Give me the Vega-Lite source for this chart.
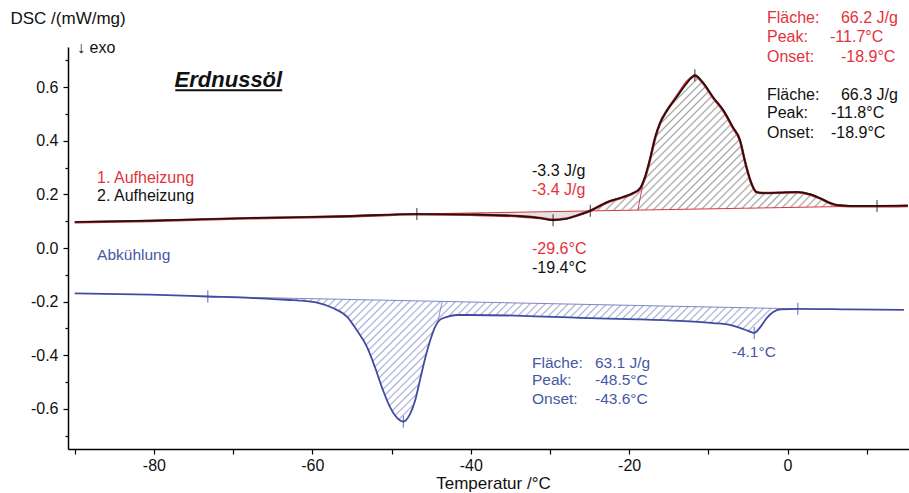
{
"$schema":"https://vega.github.io/schema/vega-lite/v6.json",
"width":841,"height":402,
"autosize":{"type":"none"},
"padding":{"left":68,"top":47,"right":0,"bottom":44},
"background":"#ffffff",
"config":{"view":{"stroke":null},"font":"Liberation Sans","locale":{"number":{"decimal":".","thousands":",","grouping":[3],"currency":["$",""],"minus":"-"}}},
"resolve":{"axis":{"y":"independent"}},
"datasets":{
"curves":[
{"s":"k","T":-90,"v":0.097},{"s":"k","T":-80.5,"v":0.102},{"s":"k","T":-67.9,"v":0.112},{"s":"k","T":-55.2,"v":0.119},
{"s":"k","T":-46.8,"v":0.127,"base":0.127},{"s":"k","T":-40.1,"v":0.125,"base":0.1305},{"s":"k","T":-33.8,"v":0.119,"base":0.1337},
{"s":"k","T":-31.3,"v":0.112,"base":0.135},{"s":"k","T":-29.6,"v":0.104,"base":0.1359},{"s":"k","T":-28.1,"v":0.108,"base":0.1366},
{"s":"k","T":-26.4,"v":0.123,"base":0.1375},{"s":"k","T":-24.9,"v":0.139,"base":0.1383},{"s":"k","T":-22.8,"v":0.171,"base":0.1394},
{"s":"k","T":-20.8,"v":0.19,"base":0.1404},{"s":"k","T":-19.5,"v":0.205,"base":0.1411},{"s":"k","T":-18.6,"v":0.224,"base":0.1416},
{"s":"k","T":-18.0,"v":0.265,"base":0.1419},{"s":"k","T":-17.4,"v":0.328,"base":0.1422},{"s":"k","T":-16.7,"v":0.414,"base":0.1425},
{"s":"k","T":-16.1,"v":0.466,"base":0.1428},{"s":"k","T":-15.2,"v":0.514,"base":0.1433},{"s":"k","T":-14.0,"v":0.563,"base":0.1439},
{"s":"k","T":-12.7,"v":0.615,"base":0.1446},{"s":"k","T":-11.7,"v":0.645,"base":0.1451},{"s":"k","T":-10.7,"v":0.619,"base":0.1456},
{"s":"k","T":-9.4,"v":0.563,"base":0.1463},{"s":"k","T":-8.1,"v":0.514,"base":0.147},{"s":"k","T":-6.9,"v":0.451,"base":0.1476},
{"s":"k","T":-6.0,"v":0.403,"base":0.1481},{"s":"k","T":-5.4,"v":0.328,"base":0.1484},{"s":"k","T":-4.7,"v":0.253,"base":0.1487},
{"s":"k","T":-3.9,"v":0.209,"base":0.1491},{"s":"k","T":-3.1,"v":0.205,"base":0.1496},{"s":"k","T":-1.0,"v":0.207,"base":0.1506},
{"s":"k","T":1.2,"v":0.209,"base":0.1518},{"s":"k","T":2.8,"v":0.201,"base":0.1526},{"s":"k","T":4.1,"v":0.186,"base":0.1533},
{"s":"k","T":5.4,"v":0.168,"base":0.1539},{"s":"k","T":6.3,"v":0.16,"base":0.1544},{"s":"k","T":7.9,"v":0.157,"base":0.1552},
{"s":"k","T":11.3,"v":0.157,"base":0.157},{"s":"k","T":15.2,"v":0.158},
{"s":"r","T":-90,"v":0.096},{"s":"r","T":-80.5,"v":0.101},{"s":"r","T":-67.9,"v":0.111},{"s":"r","T":-55.2,"v":0.118},
{"s":"r","T":-46.8,"v":0.126},{"s":"r","T":-40.1,"v":0.124},{"s":"r","T":-33.8,"v":0.118},{"s":"r","T":-31.3,"v":0.112},
{"s":"r","T":-29.6,"v":0.105},{"s":"r","T":-28.1,"v":0.109},{"s":"r","T":-26.4,"v":0.123},{"s":"r","T":-24.9,"v":0.139},
{"s":"r","T":-22.8,"v":0.17},{"s":"r","T":-20.8,"v":0.189},{"s":"r","T":-19.5,"v":0.204},{"s":"r","T":-18.6,"v":0.222},
{"s":"r","T":-18.0,"v":0.262},{"s":"r","T":-17.4,"v":0.325},{"s":"r","T":-16.7,"v":0.412},{"s":"r","T":-16.1,"v":0.465},
{"s":"r","T":-15.2,"v":0.514},{"s":"r","T":-14.0,"v":0.565},{"s":"r","T":-12.7,"v":0.62},{"s":"r","T":-11.7,"v":0.642},
{"s":"r","T":-10.7,"v":0.616},{"s":"r","T":-9.4,"v":0.561},{"s":"r","T":-8.1,"v":0.512},{"s":"r","T":-6.9,"v":0.449},
{"s":"r","T":-6.0,"v":0.401},{"s":"r","T":-5.4,"v":0.326},{"s":"r","T":-4.7,"v":0.252},{"s":"r","T":-3.9,"v":0.208},
{"s":"r","T":-3.1,"v":0.205},{"s":"r","T":-1.0,"v":0.206},{"s":"r","T":1.2,"v":0.208},{"s":"r","T":2.8,"v":0.2},
{"s":"r","T":4.1,"v":0.185},{"s":"r","T":5.4,"v":0.167},{"s":"r","T":6.3,"v":0.159},{"s":"r","T":7.9,"v":0.156},
{"s":"r","T":11.3,"v":0.156},{"s":"r","T":15.2,"v":0.157},
{"s":"b","T":-90,"v":-0.169},{"s":"b","T":-80.5,"v":-0.174},{"s":"b","T":-73.2,"v":-0.181,"base":-0.181},
{"s":"b","T":-67.9,"v":-0.186,"base":-0.1843},{"s":"b","T":-62.8,"v":-0.194,"base":-0.1874},{"s":"b","T":-61.6,"v":-0.196,"base":-0.1882},
{"s":"b","T":-59.4,"v":-0.204,"base":-0.1895},{"s":"b","T":-57.4,"v":-0.224,"base":-0.1907},{"s":"b","T":-55.6,"v":-0.257,"base":-0.1919},
{"s":"b","T":-54.4,"v":-0.306,"base":-0.1926},{"s":"b","T":-53.1,"v":-0.369,"base":-0.1934},{"s":"b","T":-52.1,"v":-0.444,"base":-0.194},
{"s":"b","T":-51.1,"v":-0.529,"base":-0.1946},{"s":"b","T":-50.2,"v":-0.593,"base":-0.1952},{"s":"b","T":-49.3,"v":-0.634,"base":-0.1957},
{"s":"b","T":-48.5,"v":-0.648,"base":-0.1962},{"s":"b","T":-47.7,"v":-0.622,"base":-0.1967},{"s":"b","T":-47.0,"v":-0.567,"base":-0.1972},
{"s":"b","T":-46.4,"v":-0.492,"base":-0.1975},{"s":"b","T":-45.8,"v":-0.417,"base":-0.1979},{"s":"b","T":-45.1,"v":-0.343,"base":-0.1983},
{"s":"b","T":-44.5,"v":-0.294,"base":-0.1987},{"s":"b","T":-43.9,"v":-0.268,"base":-0.1991},{"s":"b","T":-43.0,"v":-0.257,"base":-0.1996},
{"s":"b","T":-41.7,"v":-0.25,"base":-0.2004},{"s":"b","T":-40.1,"v":-0.25,"base":-0.2014},{"s":"b","T":-33.5,"v":-0.253,"base":-0.2055},
{"s":"b","T":-26.2,"v":-0.261,"base":-0.21},{"s":"b","T":-18.9,"v":-0.266,"base":-0.2145},{"s":"b","T":-13.6,"v":-0.272,"base":-0.2178},
{"s":"b","T":-9.4,"v":-0.28,"base":-0.2204},{"s":"b","T":-7.3,"v":-0.287,"base":-0.2217},{"s":"b","T":-6.0,"v":-0.298,"base":-0.2225},
{"s":"b","T":-5.0,"v":-0.309,"base":-0.2231},{"s":"b","T":-4.2,"v":-0.317,"base":-0.2236},{"s":"b","T":-3.5,"v":-0.298,"base":-0.224},
{"s":"b","T":-2.6,"v":-0.261,"base":-0.2246},{"s":"b","T":-1.8,"v":-0.239,"base":-0.2251},{"s":"b","T":-0.9,"v":-0.229,"base":-0.2256},
{"s":"b","T":1.3,"v":-0.227,"base":-0.227},{"s":"b","T":7.9,"v":-0.229},{"s":"b","T":14.7,"v":-0.231}
],
"marks":[
{"s":"k","T":-46.8,"v":0.127},{"s":"k","T":-29.6,"v":0.104},{"s":"k","T":-24.9,"v":0.139},{"s":"k","T":-11.7,"v":0.645},{"s":"k","T":11.3,"v":0.157},
{"s":"b","T":-73.2,"v":-0.181},{"s":"b","T":-48.5,"v":-0.648},{"s":"b","T":-4.2,"v":-0.317},{"s":"b","T":1.3,"v":-0.227}
],
"dividers":[
{"s":"k","T":-18.9,"v":0.1414,"T2":-18.25,"v2":0.24},
{"s":"b","T":-43.6,"v":-0.1993,"T2":-44.2,"v2":-0.281}
],
"notes":[
{"t":"Fläche:","T":-2.59,"v":0.858,"g":"r"},{"t":"66.2 J/g","T":6.75,"v":0.858,"g":"r"},
{"t":"Peak:","T":-2.59,"v":0.787,"g":"r"},{"t":"-11.7°C","T":5.37,"v":0.787,"g":"r"},
{"t":"Onset:","T":-2.59,"v":0.713,"g":"r"},{"t":"-18.9°C","T":6.75,"v":0.713,"g":"r"},
{"t":"Fläche:","T":-2.59,"v":0.571,"g":"k"},{"t":"66.3 J/g","T":6.75,"v":0.571,"g":"k"},
{"t":"Peak:","T":-2.59,"v":0.504,"g":"k"},{"t":"-11.8°C","T":5.49,"v":0.504,"g":"k"},
{"t":"Onset:","T":-2.59,"v":0.429,"g":"k"},{"t":"-18.9°C","T":5.49,"v":0.429,"g":"k"},
{"t":"1. Aufheizung","T":-87.18,"v":0.261,"g":"r"},{"t":"2. Aufheizung","T":-87.18,"v":0.194,"g":"k"},
{"t":"-3.3 J/g","T":-32.26,"v":0.287,"g":"k"},{"t":"-3.4 J/g","T":-32.26,"v":0.216,"g":"r"},
{"t":"-29.6°C","T":-32.26,"v":-0.004,"g":"r"},{"t":"-19.4°C","T":-32.26,"v":-0.075,"g":"k"},
{"t":"↓ exo","T":-89.7,"v":0.746,"g":"k"},
{"t":"Abkühlung","T":-87.18,"v":-0.026,"g":"b"},
{"t":"Fläche:","T":-32.26,"v":-0.429,"g":"b"},{"t":"63.1 J/g","T":-24.31,"v":-0.429,"g":"b"},
{"t":"Peak:","T":-32.26,"v":-0.493,"g":"b"},{"t":"-48.5°C","T":-24.31,"v":-0.493,"g":"b"},
{"t":"Onset:","T":-32.26,"v":-0.563,"g":"b"},{"t":"-43.6°C","T":-24.31,"v":-0.563,"g":"b"},
{"t":"-4.1°C","T":-7.04,"v":-0.388,"g":"b"}
]
},
"layer":[
{"data":{"name":"curves"},"transform":[{"filter":"datum.s=='k' && datum.T>=-46.8 && datum.T<=-24.9"}],
"mark":{"type":"area","interpolate":"monotone","fill":"#e3e3e3"},
"encoding":{
"x":{"field":"T","type":"quantitative","scale":{"domain":[-90.85,15.34],"nice":false,"zero":false},
"axis":{"title":"Temperatur /°C","values":[-90,-80,-70,-60,-50,-40,-30,-20,-10,0,10],
"labelExpr":"datum.value % 20 == 0 ? (datum.value < 0 ? '-' : '') + abs(datum.value) : ''",
"grid":false,"domainColor":"#000","domainWidth":1.5,"tickColor":"#000","tickWidth":1.2,"tickSize":5,
"labelFontSize":16,"labelColor":"#111","labelPadding":3,"labelFont":"Liberation Sans","labelFlush":false,"labelOverlap":false,
"titleFont":"Liberation Sans","titleFontSize":17,"titleFontWeight":"normal","titleColor":"#111","titleX":425,"titleY":34,"titleBaseline":"middle","titleAlign":"center"}},
"y":{"field":"v","type":"quantitative","scale":{"domain":[-0.75,0.75],"nice":false,"zero":false},
"axis":{"title":"DSC /(mW/mg)","orient":"left","values":[-0.6,-0.4,-0.2,0,0.2,0.4,0.6],
"format":".1f",
"grid":false,"domainColor":"#000","domainWidth":1.5,"tickColor":"#000","tickWidth":1.2,"tickSize":5,
"labelFontSize":16,"labelColor":"#111","labelPadding":5,"labelFont":"Liberation Sans","labelFlush":false,"labelOverlap":false,
"titleFont":"Liberation Sans","titleFontSize":17,"titleFontWeight":"normal","titleColor":"#111",
"titleAngle":0,"titleAlign":"left","titleBaseline":"middle","titleX":-58,"titleY":-29}},
"y2":{"field":"base"}}},
{"data":{"name":"curves"},"transform":[{"filter":"datum.s=='k' && datum.T>=-24.9 && datum.T<=7.9"}],
"mark":{"type":"area","interpolate":"monotone","fill":{"gradient":"linear","x1":0,"y1":0,"x2":1.196,"y2":0.625,"stops":[
{"offset":0,"color":"#a6a6a6"},{"offset":0.0045,"color":"#fff"},{"offset":0.0155,"color":"#fff"},
{"offset":0.02,"color":"#a6a6a6"},{"offset":0.0245,"color":"#fff"},{"offset":0.0355,"color":"#fff"},
{"offset":0.04,"color":"#a6a6a6"},{"offset":0.0445,"color":"#fff"},{"offset":0.0555,"color":"#fff"},
{"offset":0.06,"color":"#a6a6a6"},{"offset":0.0645,"color":"#fff"},{"offset":0.0755,"color":"#fff"},
{"offset":0.08,"color":"#a6a6a6"},{"offset":0.0845,"color":"#fff"},{"offset":0.0955,"color":"#fff"},
{"offset":0.1,"color":"#a6a6a6"},{"offset":0.1045,"color":"#fff"},{"offset":0.1155,"color":"#fff"},
{"offset":0.12,"color":"#a6a6a6"},{"offset":0.1245,"color":"#fff"},{"offset":0.1355,"color":"#fff"},
{"offset":0.14,"color":"#a6a6a6"},{"offset":0.1445,"color":"#fff"},{"offset":0.1555,"color":"#fff"},
{"offset":0.16,"color":"#a6a6a6"},{"offset":0.1645,"color":"#fff"},{"offset":0.1755,"color":"#fff"},
{"offset":0.18,"color":"#a6a6a6"},{"offset":0.1845,"color":"#fff"},{"offset":0.1955,"color":"#fff"},
{"offset":0.2,"color":"#a6a6a6"},{"offset":0.2045,"color":"#fff"},{"offset":0.2155,"color":"#fff"},
{"offset":0.22,"color":"#a6a6a6"},{"offset":0.2245,"color":"#fff"},{"offset":0.2355,"color":"#fff"},
{"offset":0.24,"color":"#a6a6a6"},{"offset":0.2445,"color":"#fff"},{"offset":0.2555,"color":"#fff"},
{"offset":0.26,"color":"#a6a6a6"},{"offset":0.2645,"color":"#fff"},{"offset":0.2755,"color":"#fff"},
{"offset":0.28,"color":"#a6a6a6"},{"offset":0.2845,"color":"#fff"},{"offset":0.2955,"color":"#fff"},
{"offset":0.3,"color":"#a6a6a6"},{"offset":0.3045,"color":"#fff"},{"offset":0.3155,"color":"#fff"},
{"offset":0.32,"color":"#a6a6a6"},{"offset":0.3245,"color":"#fff"},{"offset":0.3355,"color":"#fff"},
{"offset":0.34,"color":"#a6a6a6"},{"offset":0.3445,"color":"#fff"},{"offset":0.3555,"color":"#fff"},
{"offset":0.36,"color":"#a6a6a6"},{"offset":0.3645,"color":"#fff"},{"offset":0.3755,"color":"#fff"},
{"offset":0.38,"color":"#a6a6a6"},{"offset":0.3845,"color":"#fff"},{"offset":0.3955,"color":"#fff"},
{"offset":0.4,"color":"#a6a6a6"},{"offset":0.4045,"color":"#fff"},{"offset":0.4155,"color":"#fff"},
{"offset":0.42,"color":"#a6a6a6"},{"offset":0.4245,"color":"#fff"},{"offset":0.4355,"color":"#fff"},
{"offset":0.44,"color":"#a6a6a6"},{"offset":0.4445,"color":"#fff"},{"offset":0.4555,"color":"#fff"},
{"offset":0.46,"color":"#a6a6a6"},{"offset":0.4645,"color":"#fff"},{"offset":0.4755,"color":"#fff"},
{"offset":0.48,"color":"#a6a6a6"},{"offset":0.4845,"color":"#fff"},{"offset":0.4955,"color":"#fff"},
{"offset":0.5,"color":"#a6a6a6"},{"offset":0.5045,"color":"#fff"},{"offset":0.5155,"color":"#fff"},
{"offset":0.52,"color":"#a6a6a6"},{"offset":0.5245,"color":"#fff"},{"offset":0.5355,"color":"#fff"},
{"offset":0.54,"color":"#a6a6a6"},{"offset":0.5445,"color":"#fff"},{"offset":0.5555,"color":"#fff"},
{"offset":0.56,"color":"#a6a6a6"},{"offset":0.5645,"color":"#fff"},{"offset":0.5755,"color":"#fff"},
{"offset":0.58,"color":"#a6a6a6"},{"offset":0.5845,"color":"#fff"},{"offset":0.5955,"color":"#fff"},
{"offset":0.6,"color":"#a6a6a6"},{"offset":0.6045,"color":"#fff"},{"offset":0.6155,"color":"#fff"},
{"offset":0.62,"color":"#a6a6a6"},{"offset":0.6245,"color":"#fff"},{"offset":0.6355,"color":"#fff"},
{"offset":0.64,"color":"#a6a6a6"},{"offset":0.6445,"color":"#fff"},{"offset":0.6555,"color":"#fff"},
{"offset":0.66,"color":"#a6a6a6"},{"offset":0.6645,"color":"#fff"},{"offset":0.6755,"color":"#fff"},
{"offset":0.68,"color":"#a6a6a6"},{"offset":0.6845,"color":"#fff"},{"offset":0.6955,"color":"#fff"},
{"offset":0.7,"color":"#a6a6a6"},{"offset":0.7045,"color":"#fff"},{"offset":0.7155,"color":"#fff"},
{"offset":0.72,"color":"#a6a6a6"},{"offset":0.7245,"color":"#fff"},{"offset":0.7355,"color":"#fff"},
{"offset":0.74,"color":"#a6a6a6"},{"offset":0.7445,"color":"#fff"},{"offset":0.7555,"color":"#fff"},
{"offset":0.76,"color":"#a6a6a6"},{"offset":0.7645,"color":"#fff"},{"offset":0.7755,"color":"#fff"},
{"offset":0.78,"color":"#a6a6a6"},{"offset":0.7845,"color":"#fff"},{"offset":0.7955,"color":"#fff"},
{"offset":0.8,"color":"#a6a6a6"},{"offset":0.8045,"color":"#fff"},{"offset":0.8155,"color":"#fff"},
{"offset":0.82,"color":"#a6a6a6"},{"offset":0.8245,"color":"#fff"},{"offset":0.8355,"color":"#fff"},
{"offset":0.84,"color":"#a6a6a6"},{"offset":0.8445,"color":"#fff"},{"offset":0.8555,"color":"#fff"},
{"offset":0.86,"color":"#a6a6a6"},{"offset":0.8645,"color":"#fff"},{"offset":0.8755,"color":"#fff"},
{"offset":0.88,"color":"#a6a6a6"},{"offset":0.8845,"color":"#fff"},{"offset":0.8955,"color":"#fff"},
{"offset":0.9,"color":"#a6a6a6"},{"offset":0.9045,"color":"#fff"},{"offset":0.9155,"color":"#fff"},
{"offset":0.92,"color":"#a6a6a6"},{"offset":0.9245,"color":"#fff"},{"offset":0.9355,"color":"#fff"},
{"offset":0.94,"color":"#a6a6a6"},{"offset":0.9445,"color":"#fff"},{"offset":0.9555,"color":"#fff"},
{"offset":0.96,"color":"#a6a6a6"},{"offset":0.9645,"color":"#fff"},{"offset":0.9755,"color":"#fff"},
{"offset":0.98,"color":"#a6a6a6"},{"offset":0.9845,"color":"#fff"},{"offset":0.9955,"color":"#fff"},
{"offset":1,"color":"#a6a6a6"}]}},
"encoding":{"x":{"field":"T","type":"quantitative"},"y":{"field":"v","type":"quantitative","axis":null},"y2":{"field":"base"}}},
{"data":{"name":"curves"},"transform":[{"filter":"datum.s=='b' && datum.T>=-62.8 && datum.T<=-0.9"}],
"mark":{"type":"area","interpolate":"monotone","fill":{"gradient":"linear","x1":0,"y1":0,"x2":1.177,"y2":0.297,"stops":[
{"offset":0,"color":"#a9b0d6"},{"offset":0.0028,"color":"#fff"},{"offset":0.0097,"color":"#fff"},
{"offset":0.0125,"color":"#a9b0d6"},{"offset":0.0153,"color":"#fff"},{"offset":0.0222,"color":"#fff"},
{"offset":0.025,"color":"#a9b0d6"},{"offset":0.0278,"color":"#fff"},{"offset":0.0347,"color":"#fff"},
{"offset":0.0375,"color":"#a9b0d6"},{"offset":0.0403,"color":"#fff"},{"offset":0.0472,"color":"#fff"},
{"offset":0.05,"color":"#a9b0d6"},{"offset":0.0528,"color":"#fff"},{"offset":0.0597,"color":"#fff"},
{"offset":0.0625,"color":"#a9b0d6"},{"offset":0.0653,"color":"#fff"},{"offset":0.0722,"color":"#fff"},
{"offset":0.075,"color":"#a9b0d6"},{"offset":0.0778,"color":"#fff"},{"offset":0.0847,"color":"#fff"},
{"offset":0.0875,"color":"#a9b0d6"},{"offset":0.0903,"color":"#fff"},{"offset":0.0972,"color":"#fff"},
{"offset":0.1,"color":"#a9b0d6"},{"offset":0.1028,"color":"#fff"},{"offset":0.1097,"color":"#fff"},
{"offset":0.1125,"color":"#a9b0d6"},{"offset":0.1153,"color":"#fff"},{"offset":0.1222,"color":"#fff"},
{"offset":0.125,"color":"#a9b0d6"},{"offset":0.1278,"color":"#fff"},{"offset":0.1347,"color":"#fff"},
{"offset":0.1375,"color":"#a9b0d6"},{"offset":0.1403,"color":"#fff"},{"offset":0.1472,"color":"#fff"},
{"offset":0.15,"color":"#a9b0d6"},{"offset":0.1528,"color":"#fff"},{"offset":0.1597,"color":"#fff"},
{"offset":0.1625,"color":"#a9b0d6"},{"offset":0.1653,"color":"#fff"},{"offset":0.1722,"color":"#fff"},
{"offset":0.175,"color":"#a9b0d6"},{"offset":0.1778,"color":"#fff"},{"offset":0.1847,"color":"#fff"},
{"offset":0.1875,"color":"#a9b0d6"},{"offset":0.1903,"color":"#fff"},{"offset":0.1972,"color":"#fff"},
{"offset":0.2,"color":"#a9b0d6"},{"offset":0.2028,"color":"#fff"},{"offset":0.2097,"color":"#fff"},
{"offset":0.2125,"color":"#a9b0d6"},{"offset":0.2153,"color":"#fff"},{"offset":0.2222,"color":"#fff"},
{"offset":0.225,"color":"#a9b0d6"},{"offset":0.2278,"color":"#fff"},{"offset":0.2347,"color":"#fff"},
{"offset":0.2375,"color":"#a9b0d6"},{"offset":0.2403,"color":"#fff"},{"offset":0.2472,"color":"#fff"},
{"offset":0.25,"color":"#a9b0d6"},{"offset":0.2528,"color":"#fff"},{"offset":0.2597,"color":"#fff"},
{"offset":0.2625,"color":"#a9b0d6"},{"offset":0.2653,"color":"#fff"},{"offset":0.2722,"color":"#fff"},
{"offset":0.275,"color":"#a9b0d6"},{"offset":0.2778,"color":"#fff"},{"offset":0.2847,"color":"#fff"},
{"offset":0.2875,"color":"#a9b0d6"},{"offset":0.2903,"color":"#fff"},{"offset":0.2972,"color":"#fff"},
{"offset":0.3,"color":"#a9b0d6"},{"offset":0.3028,"color":"#fff"},{"offset":0.3097,"color":"#fff"},
{"offset":0.3125,"color":"#a9b0d6"},{"offset":0.3153,"color":"#fff"},{"offset":0.3222,"color":"#fff"},
{"offset":0.325,"color":"#a9b0d6"},{"offset":0.3278,"color":"#fff"},{"offset":0.3347,"color":"#fff"},
{"offset":0.3375,"color":"#a9b0d6"},{"offset":0.3403,"color":"#fff"},{"offset":0.3472,"color":"#fff"},
{"offset":0.35,"color":"#a9b0d6"},{"offset":0.3528,"color":"#fff"},{"offset":0.3597,"color":"#fff"},
{"offset":0.3625,"color":"#a9b0d6"},{"offset":0.3653,"color":"#fff"},{"offset":0.3722,"color":"#fff"},
{"offset":0.375,"color":"#a9b0d6"},{"offset":0.3778,"color":"#fff"},{"offset":0.3847,"color":"#fff"},
{"offset":0.3875,"color":"#a9b0d6"},{"offset":0.3903,"color":"#fff"},{"offset":0.3972,"color":"#fff"},
{"offset":0.4,"color":"#a9b0d6"},{"offset":0.4028,"color":"#fff"},{"offset":0.4097,"color":"#fff"},
{"offset":0.4125,"color":"#a9b0d6"},{"offset":0.4153,"color":"#fff"},{"offset":0.4222,"color":"#fff"},
{"offset":0.425,"color":"#a9b0d6"},{"offset":0.4278,"color":"#fff"},{"offset":0.4347,"color":"#fff"},
{"offset":0.4375,"color":"#a9b0d6"},{"offset":0.4403,"color":"#fff"},{"offset":0.4472,"color":"#fff"},
{"offset":0.45,"color":"#a9b0d6"},{"offset":0.4528,"color":"#fff"},{"offset":0.4597,"color":"#fff"},
{"offset":0.4625,"color":"#a9b0d6"},{"offset":0.4653,"color":"#fff"},{"offset":0.4722,"color":"#fff"},
{"offset":0.475,"color":"#a9b0d6"},{"offset":0.4778,"color":"#fff"},{"offset":0.4847,"color":"#fff"},
{"offset":0.4875,"color":"#a9b0d6"},{"offset":0.4903,"color":"#fff"},{"offset":0.4972,"color":"#fff"},
{"offset":0.5,"color":"#a9b0d6"},{"offset":0.5028,"color":"#fff"},{"offset":0.5097,"color":"#fff"},
{"offset":0.5125,"color":"#a9b0d6"},{"offset":0.5153,"color":"#fff"},{"offset":0.5222,"color":"#fff"},
{"offset":0.525,"color":"#a9b0d6"},{"offset":0.5278,"color":"#fff"},{"offset":0.5347,"color":"#fff"},
{"offset":0.5375,"color":"#a9b0d6"},{"offset":0.5403,"color":"#fff"},{"offset":0.5472,"color":"#fff"},
{"offset":0.55,"color":"#a9b0d6"},{"offset":0.5528,"color":"#fff"},{"offset":0.5597,"color":"#fff"},
{"offset":0.5625,"color":"#a9b0d6"},{"offset":0.5653,"color":"#fff"},{"offset":0.5722,"color":"#fff"},
{"offset":0.575,"color":"#a9b0d6"},{"offset":0.5778,"color":"#fff"},{"offset":0.5847,"color":"#fff"},
{"offset":0.5875,"color":"#a9b0d6"},{"offset":0.5903,"color":"#fff"},{"offset":0.5972,"color":"#fff"},
{"offset":0.6,"color":"#a9b0d6"},{"offset":0.6028,"color":"#fff"},{"offset":0.6097,"color":"#fff"},
{"offset":0.6125,"color":"#a9b0d6"},{"offset":0.6153,"color":"#fff"},{"offset":0.6222,"color":"#fff"},
{"offset":0.625,"color":"#a9b0d6"},{"offset":0.6278,"color":"#fff"},{"offset":0.6347,"color":"#fff"},
{"offset":0.6375,"color":"#a9b0d6"},{"offset":0.6403,"color":"#fff"},{"offset":0.6472,"color":"#fff"},
{"offset":0.65,"color":"#a9b0d6"},{"offset":0.6528,"color":"#fff"},{"offset":0.6597,"color":"#fff"},
{"offset":0.6625,"color":"#a9b0d6"},{"offset":0.6653,"color":"#fff"},{"offset":0.6722,"color":"#fff"},
{"offset":0.675,"color":"#a9b0d6"},{"offset":0.6778,"color":"#fff"},{"offset":0.6847,"color":"#fff"},
{"offset":0.6875,"color":"#a9b0d6"},{"offset":0.6903,"color":"#fff"},{"offset":0.6972,"color":"#fff"},
{"offset":0.7,"color":"#a9b0d6"},{"offset":0.7028,"color":"#fff"},{"offset":0.7097,"color":"#fff"},
{"offset":0.7125,"color":"#a9b0d6"},{"offset":0.7153,"color":"#fff"},{"offset":0.7222,"color":"#fff"},
{"offset":0.725,"color":"#a9b0d6"},{"offset":0.7278,"color":"#fff"},{"offset":0.7347,"color":"#fff"},
{"offset":0.7375,"color":"#a9b0d6"},{"offset":0.7403,"color":"#fff"},{"offset":0.7472,"color":"#fff"},
{"offset":0.75,"color":"#a9b0d6"},{"offset":0.7528,"color":"#fff"},{"offset":0.7597,"color":"#fff"},
{"offset":0.7625,"color":"#a9b0d6"},{"offset":0.7653,"color":"#fff"},{"offset":0.7722,"color":"#fff"},
{"offset":0.775,"color":"#a9b0d6"},{"offset":0.7778,"color":"#fff"},{"offset":0.7847,"color":"#fff"},
{"offset":0.7875,"color":"#a9b0d6"},{"offset":0.7903,"color":"#fff"},{"offset":0.7972,"color":"#fff"},
{"offset":0.8,"color":"#a9b0d6"},{"offset":0.8028,"color":"#fff"},{"offset":0.8097,"color":"#fff"},
{"offset":0.8125,"color":"#a9b0d6"},{"offset":0.8153,"color":"#fff"},{"offset":0.8222,"color":"#fff"},
{"offset":0.825,"color":"#a9b0d6"},{"offset":0.8278,"color":"#fff"},{"offset":0.8347,"color":"#fff"},
{"offset":0.8375,"color":"#a9b0d6"},{"offset":0.8403,"color":"#fff"},{"offset":0.8472,"color":"#fff"},
{"offset":0.85,"color":"#a9b0d6"},{"offset":0.8528,"color":"#fff"},{"offset":0.8597,"color":"#fff"},
{"offset":0.8625,"color":"#a9b0d6"},{"offset":0.8653,"color":"#fff"},{"offset":0.8722,"color":"#fff"},
{"offset":0.875,"color":"#a9b0d6"},{"offset":0.8778,"color":"#fff"},{"offset":0.8847,"color":"#fff"},
{"offset":0.8875,"color":"#a9b0d6"},{"offset":0.8903,"color":"#fff"},{"offset":0.8972,"color":"#fff"},
{"offset":0.9,"color":"#a9b0d6"},{"offset":0.9028,"color":"#fff"},{"offset":0.9097,"color":"#fff"},
{"offset":0.9125,"color":"#a9b0d6"},{"offset":0.9153,"color":"#fff"},{"offset":0.9222,"color":"#fff"},
{"offset":0.925,"color":"#a9b0d6"},{"offset":0.9278,"color":"#fff"},{"offset":0.9347,"color":"#fff"},
{"offset":0.9375,"color":"#a9b0d6"},{"offset":0.9403,"color":"#fff"},{"offset":0.9472,"color":"#fff"},
{"offset":0.95,"color":"#a9b0d6"},{"offset":0.9528,"color":"#fff"},{"offset":0.9597,"color":"#fff"},
{"offset":0.9625,"color":"#a9b0d6"},{"offset":0.9653,"color":"#fff"},{"offset":0.9722,"color":"#fff"},
{"offset":0.975,"color":"#a9b0d6"},{"offset":0.9778,"color":"#fff"},{"offset":0.9847,"color":"#fff"},
{"offset":0.9875,"color":"#a9b0d6"},{"offset":0.9903,"color":"#fff"},{"offset":0.9972,"color":"#fff"},
{"offset":1,"color":"#a9b0d6"}]}},
"encoding":{"x":{"field":"T","type":"quantitative"},"y":{"field":"v","type":"quantitative","axis":null},"y2":{"field":"base"}}},
{"data":{"name":"curves"},"transform":[{"filter":"datum.s=='k' && isValid(datum.base)"}],
"mark":{"type":"line","color":"#d8383c","strokeWidth":1},
"encoding":{"x":{"field":"T","type":"quantitative"},"y":{"field":"base","type":"quantitative","axis":null}}},
{"data":{"name":"curves"},"transform":[{"filter":"datum.s=='b' && isValid(datum.base)"}],
"mark":{"type":"line","color":"#7d87bf","strokeWidth":1},
"encoding":{"x":{"field":"T","type":"quantitative"},"y":{"field":"base","type":"quantitative","axis":null}}},
{"data":{"name":"dividers"},
"mark":{"type":"rule","strokeWidth":1},
"encoding":{"x":{"field":"T","type":"quantitative"},"y":{"field":"v","type":"quantitative","axis":null},
"x2":{"field":"T2"},"y2":{"field":"v2"},
"color":{"condition":{"test":"datum.s=='b'","value":"#8a92c4"},"value":"#c84a4a"}}},
{"data":{"name":"curves"},"transform":[{"filter":"datum.s=='b'"}],
"mark":{"type":"line","color":"#3f4c9f","strokeWidth":1.8,"interpolate":"monotone"},
"encoding":{"x":{"field":"T","type":"quantitative"},"y":{"field":"v","type":"quantitative","axis":null}}},
{"data":{"name":"curves"},"transform":[{"filter":"datum.s=='r'"}],
"mark":{"type":"line","color":"#c8282e","strokeWidth":2.6,"interpolate":"monotone"},
"encoding":{"x":{"field":"T","type":"quantitative"},"y":{"field":"v","type":"quantitative","axis":null}}},
{"data":{"name":"curves"},"transform":[{"filter":"datum.s=='k'"}],
"mark":{"type":"line","color":"#151515","strokeWidth":1.6,"interpolate":"monotone"},
"encoding":{"x":{"field":"T","type":"quantitative"},"y":{"field":"v","type":"quantitative","axis":null}}},
{"data":{"name":"marks"},
"mark":{"type":"tick","orient":"vertical","size":12,"thickness":1.2},
"encoding":{"x":{"field":"T","type":"quantitative"},
"y":{"field":"v","type":"quantitative","axis":{"orient":"left","title":null,"values":[-0.7,-0.5,-0.3,-0.1,0.1,0.3,0.5,0.7],"labels":false,"domain":false,"grid":false,"ticks":true,"tickSize":3,"tickColor":"#000","tickWidth":1.2,"offset":0}},
"color":{"condition":{"test":"datum.s=='b'","value":"#3f4c9f"},"value":"#111111"}}},
{"data":{"name":"notes"},"transform":[{"filter":"datum.g!='b'"}],
"mark":{"type":"text","align":"left","baseline":"middle","fontSize":16,"font":"Liberation Sans"},
"encoding":{"x":{"field":"T","type":"quantitative"},"y":{"field":"v","type":"quantitative","axis":null},
"text":{"field":"t"},
"color":{"field":"g","type":"nominal","scale":{"domain":["r","k","b"],"range":["#e4323b","#111111","#4756a6"]},"legend":null}}},
{"data":{"name":"notes"},"transform":[{"filter":"datum.g=='b'"}],
"mark":{"type":"text","align":"left","baseline":"middle","fontSize":15.5,"font":"Liberation Sans"},
"encoding":{"x":{"field":"T","type":"quantitative"},"y":{"field":"v","type":"quantitative","axis":null},
"text":{"field":"t"},
"color":{"field":"g","type":"nominal","scale":{"domain":["r","k","b"],"range":["#e4323b","#111111","#4756a6"]},"legend":null}}},
{"data":{"values":[{"t":"Erdnussöl","T":-70.6,"v":0.6}]},
"mark":{"type":"text","align":"center","baseline":"alphabetic","fontSize":22,"fontWeight":"bold","fontStyle":"italic","font":"Liberation Sans","color":"#111111"},
"encoding":{"x":{"field":"T","type":"quantitative"},"y":{"field":"v","type":"quantitative","axis":null},"text":{"field":"t"}}},
{"data":{"values":[{"T":-77.3,"T2":-63.8,"v":0.589}]},
"mark":{"type":"rule","color":"#111111","strokeWidth":2},
"encoding":{"x":{"field":"T","type":"quantitative"},"x2":{"field":"T2"},"y":{"field":"v","type":"quantitative","axis":null}}}
]
}
